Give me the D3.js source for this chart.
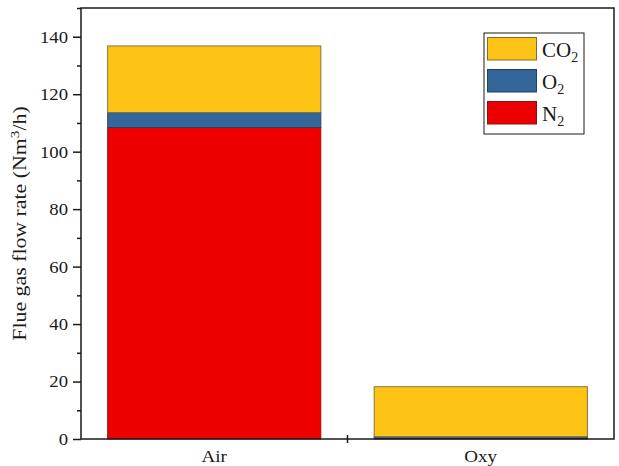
<!DOCTYPE html>
<html>
<head>
<meta charset="utf-8">
<script src="https://cdn.jsdelivr.net/npm/d3@7"></script>
<style>
  html, body { margin: 0; padding: 0; background: #fff; }
  svg { display: block; }
  text { font-family: "Liberation Serif", "Times New Roman", serif; fill: #1a1a1a; }
</style>
</head>
<body>
<svg id="chart" width="619" height="466"></svg>
<script>
// Flue gas composition per combustion mode (Nm3/h)
const categories = ["Air", "Oxy"];
const n2Values = [108.4, 0.2];
const o2Values = [5.2, 0.6];
const co2Values = [23.2, 17.4];
const yTicks = [0, 20, 40, 60, 80, 100, 120, 140];
const yMinorTicks = [10, 30, 50, 70, 90, 110, 130, 150];

const series = [
  { key: "N2", base: "N", values: n2Values, color: "#ee0000", stroke: "#8a1010" },
  { key: "O2", base: "O", values: o2Values, color: "#336699", stroke: "#27405c" },
  { key: "CO2", base: "CO", values: co2Values, color: "#fdc315", stroke: "#7d6a3a" }
];

const svg = d3.select("#chart");
const margin = { left: 81, right: 5, top: 8, bottom: 27 };
const W = 619, H = 466;

// widen serif glyphs horizontally to the typeface width used on the axes
function widen(sel, factor) {
  sel.each(function () {
    const len = this.getComputedTextLength();
    d3.select(this)
      .attr("textLength", len * factor)
      .attr("lengthAdjust", "spacingAndGlyphs");
  });
}

const x = d3.scaleBand()
  .domain(categories)
  .range([margin.left, W - margin.right])
  .paddingInner(0.2)
  .paddingOuter(0.1);

const y = d3.scaleLinear()
  .domain([0, 150])
  .range([H - margin.bottom, margin.top]);

// stacked layers
const rows = categories.map((c, i) => {
  const r = { cat: c };
  series.forEach(s => r[s.key] = s.values[i]);
  return r;
});
const stack = d3.stack().keys(series.map(s => s.key));
const layers = stack(rows);

const bars = svg.append("g");
layers.forEach((layer, li) => {
  const s = series[li];
  bars.selectAll(null)
    .data(layer)
    .join("rect")
    .attr("x", d => x(d.data.cat))
    .attr("width", x.bandwidth())
    .attr("y", d => y(d[1]))
    .attr("height", d => y(d[0]) - y(d[1]))
    .attr("fill", s.color)
    .attr("stroke", s.stroke)
    .attr("stroke-width", 0.9);
});

// frame
const x0 = margin.left, x1 = W - margin.right, y0 = H - margin.bottom, y1 = margin.top;
svg.append("rect")
  .attr("x", x0).attr("y", y1)
  .attr("width", x1 - x0).attr("height", y0 - y1)
  .attr("fill", "none").attr("stroke", "#1a1a1a").attr("stroke-width", 1.5);

// y axis
const yAxis = d3.axisLeft(y)
  .tickValues(yTicks)
  .tickSize(8)
  .tickPadding(5)
  .tickFormat(d3.format("d"));
const gy = svg.append("g").attr("transform", `translate(${x0},0)`).call(yAxis);
gy.select(".domain").remove();
gy.selectAll(".tick line").attr("stroke", "#1a1a1a").attr("stroke-width", 1.5);
gy.selectAll(".tick text").style("font-size", "17px").attr("fill", "#1a1a1a").call(widen, 1.1);

const gyMinor = svg.append("g").attr("transform", `translate(${x0},0)`)
  .call(d3.axisLeft(y).tickValues(yMinorTicks).tickSize(4).tickFormat(""));
gyMinor.select(".domain").remove();
gyMinor.selectAll(".tick line").attr("stroke", "#1a1a1a").attr("stroke-width", 1.5);

// x axis: labels at band centres, crossing tick between categories
const gx = svg.append("g").attr("transform", `translate(0,${y0})`);
gx.selectAll("text.cat")
  .data(categories)
  .join("text")
  .attr("class", "cat")
  .attr("x", d => x(d) + x.bandwidth() / 2)
  .attr("y", 23)
  .attr("text-anchor", "middle")
  .style("font-size", "17px")
  .text(d => d)
  .call(widen, 1.12);
const mid = (x(categories[0]) + x.bandwidth() + x(categories[1])) / 2;
gx.append("line")
  .attr("x1", mid).attr("x2", mid)
  .attr("y1", -4).attr("y2", 4)
  .attr("stroke", "#1a1a1a").attr("stroke-width", 1.5);

// y axis title
const title = svg.append("text")
  .attr("transform", `translate(26,${(y0 + y1) / 2}) rotate(-90)`)
  .attr("text-anchor", "middle")
  .style("font-size", "18.5px");
title.append("tspan").text("Flue gas flow rate (Nm");
title.append("tspan").attr("dy", -7).style("font-size", "13px").text("3");
title.append("tspan").attr("dy", 7).text("/h)");
title.call(widen, 1.18);

// legend
const legend = svg.append("g");
legend.append("rect")
  .attr("x", 484).attr("y", 33).attr("width", 100).attr("height", 101)
  .attr("fill", "#fff").attr("stroke", "#1a1a1a").attr("stroke-width", 1);
const legendOrder = [series[2], series[1], series[0]];
legendOrder.forEach((s, i) => {
  const ly = 37.5 + i * 32;
  legend.append("rect")
    .attr("x", 487.5).attr("y", ly).attr("width", 49).attr("height", 22.5)
    .attr("fill", s.color).attr("stroke", s.stroke).attr("stroke-width", 1);
  const t = legend.append("text")
    .attr("x", 542).attr("y", ly + 19)
    .style("font-size", "21px");
  t.append("tspan").text(s.base);
  t.append("tspan").attr("dy", 5).style("font-size", "14px").text("2");
});
</script>
</body>
</html>
